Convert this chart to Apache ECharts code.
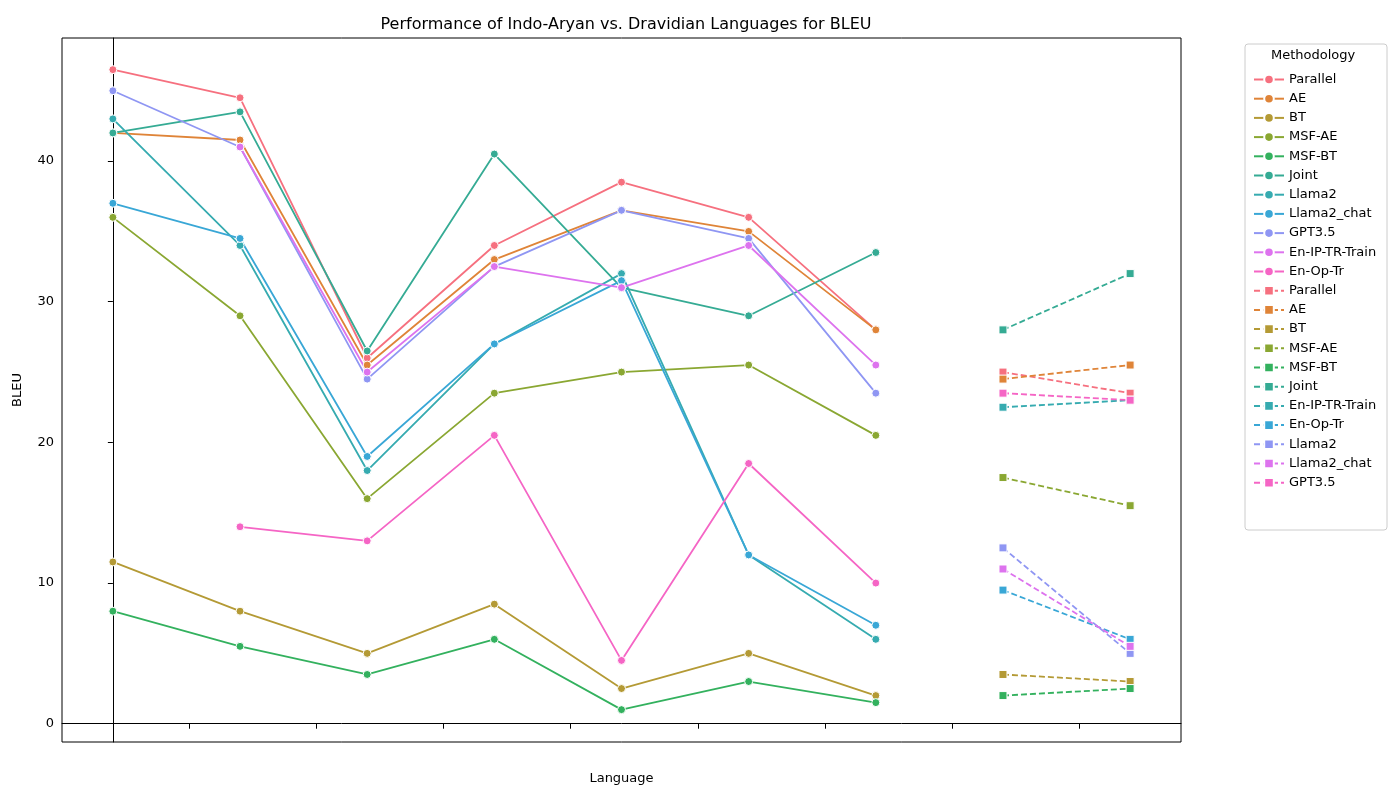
<!DOCTYPE html>
<html><head><meta charset="utf-8">
<script src="https://cdn.jsdelivr.net/npm/echarts@6/dist/echarts.min.js"></script>
<style>html,body{margin:0;padding:0;background:#fff}#c{width:1400px;height:800px}</style>
</head><body><div id="c"></div>
<script>
const categories = ['en','hi','mr','ur','mag','pa','or','ml','te'];
const yTicks = [0,10,20,30,40];
// solid series: values for en..or
const solidNames = ['Parallel','AE','BT','MSF-AE','MSF-BT','Joint','Llama2','Llama2_chat','GPT3.5','En-IP-TR-Train','En-Op-Tr'];
const solidColors = ['#f6707f','#df8438','#b49a35','#8aa732','#33b15e','#35ab94','#36abb0','#39a7d6','#8f96f3','#dd73ee','#f565c5'];
const sParallel = [46.5,44.5,26,34,38.5,36,28];
const sAE = [42,41.5,25.5,33,36.5,35,28];
const sBT = [11.5,8,5,8.5,2.5,5,2];
const sMSFAE = [36,29,16,23.5,25,25.5,20.5];
const sMSFBT = [8,5.5,3.5,6,1,3,1.5];
const sJoint = [42,43.5,26.5,40.5,31,29,33.5];
const sLlama2 = [43,34,18,27,32,12,6];
const sLlama2chat = [37,34.5,19,27,31.5,12,7];
const sGPT = [45,41,24.5,32.5,36.5,34.5,23.5];
const sEnIP = [null,41,25,32.5,31,34,25.5];
const sEnOp = [null,14,13,20.5,4.5,18.5,10];
const solidData = [sParallel,sAE,sBT,sMSFAE,sMSFBT,sJoint,sLlama2,sLlama2chat,sGPT,sEnIP,sEnOp];
// dashed series: values for ml, te
const dashNames = ['Parallel','AE','BT','MSF-AE','MSF-BT','Joint','En-IP-TR-Train','En-Op-Tr','Llama2','Llama2_chat','GPT3.5'];
const dashData = [[25,23.5],[24.5,25.5],[3.5,3],[17.5,15.5],[2,2.5],[28,32],[22.5,23],[9.5,6],[12.5,5],[11,5.5],[23.5,23]];

const series = [];
solidNames.forEach((n,i)=>{
  series.push({name:n,type:'line',symbol:'circle',symbolSize:8,connectNulls:false,
    itemStyle:{color:solidColors[i],borderColor:'#fff',borderWidth:1},
    lineStyle:{width:1.8,color:solidColors[i]},
    data:solidData[i].map((v,j)=>v==null?[j,null]:[j,v])});
});
dashNames.forEach((n,i)=>{
  series.push({name:n+'\u200b',type:'line',symbol:'rect',symbolSize:8,
    itemStyle:{color:solidColors[i],borderColor:'#fff',borderWidth:1},
    lineStyle:{width:1.8,type:[6,3],color:solidColors[i]},
    data:dashData[i].map((v,j)=>[7+j,v])});
});

const chart = echarts.init(document.getElementById('c'));
chart.setOption({
  animation:false,
  textStyle:{fontFamily:'DejaVu Sans'},
  title:{text:'Performance of Indo-Aryan vs. Dravidian Languages for BLEU',left:621,top:12,textAlign:'center',
    textStyle:{fontSize:16,fontWeight:'normal',color:'#000',fontFamily:'DejaVu Sans'}},
  grid:{left:62,top:38,width:1119,height:704,show:true,borderColor:'#000',borderWidth:1},
  xAxis:{type:'value',min:-0.4,max:8.4,interval:1,
    name:'Language',nameLocation:'middle',nameGap:30,nameTextStyle:{fontSize:13,color:'#000'},
    axisLine:{lineStyle:{color:'#000'}},axisTick:{show:true,length:5,lineStyle:{color:'#000'}},
    splitLine:{show:false},
    axisLabel:{fontSize:13,color:'#000',showMinLabel:false,showMaxLabel:false,
      formatter:v=>categories[Math.round(v)]!==undefined&&Math.abs(v-Math.round(v))<1e-6?categories[Math.round(v)]:''}},
  yAxis:{type:'value',min:-1.3,max:48.75,
    name:'BLEU',nameLocation:'middle',nameGap:38,nameTextStyle:{fontSize:13,color:'#000'},
    axisLine:{lineStyle:{color:'#000'}},
    axisTick:{show:true,length:5,lineStyle:{color:'#000'},customValues:yTicks},
    axisLabel:{fontSize:13,color:'#000',customValues:yTicks},
    splitLine:{show:false}},
  legend:{orient:'vertical',left:1248,top:68,itemGap:6.2,itemWidth:30,itemHeight:12,
    textStyle:{fontSize:13,color:'#000'},
    formatter:n=>n.replace('\u200b',''),
    data:series.map(s=>s.name)},
  graphic:[
    {type:'rect',shape:{x:1245,y:44,width:142,height:486,r:3},style:{fill:'rgba(255,255,255,0.8)',stroke:'#ccc',lineWidth:1},z:-1},
    {type:'text',left:1271,top:49,style:{text:'Methodology',fontSize:13,fill:'#000',fontFamily:'DejaVu Sans'}}
  ],
  series
});
</script></body></html>
